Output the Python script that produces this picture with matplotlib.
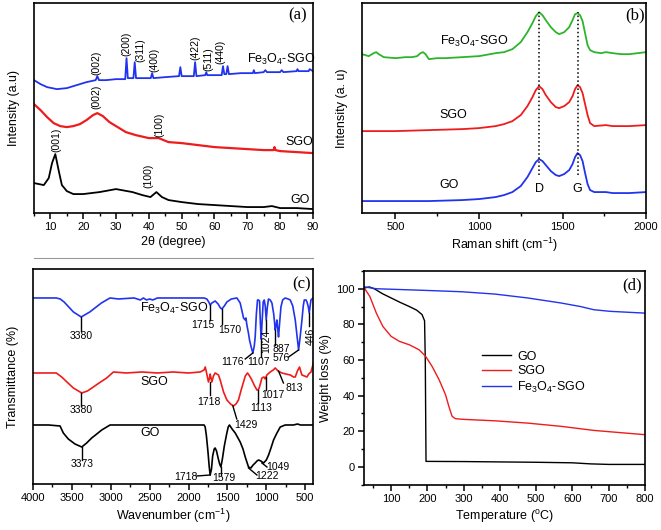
import matplotlib
matplotlib.use("Agg")
import matplotlib.pyplot as plt
from matplotlib.ticker import MultipleLocator
from matplotlib.lines import Line2D

plt.rcParams['font.family'] = ['Liberation Sans', 'DejaVu Sans']
plt.rcParams['mathtext.default'] = 'regular'

BLUE = '#2233ee'
RED = '#ee1c1c'
GREEN = '#2cb52c'

# ---- (a) XRD, intensity in arbitrary units ----
xrd_fe_x = [5, 7, 9, 12, 15, 18, 21, 23.8, 24.3, 24.8, 27, 30, 32.8, 33.2, 33.6, 35.3, 35.7, 36.1,
            40.6, 41, 41.4, 45, 49.2, 49.6, 50, 53.7, 54.1, 54.5, 57.2, 57.5, 57.8, 62.2, 62.6, 63.0,
            63.6, 64.0, 64.4, 68, 71.7, 72, 72.3, 75, 75.5, 76, 80, 80.5, 81, 85, 85.3, 85.6, 88.7, 89, 90]
xrd_fe_y = [133, 129, 126, 124, 125, 128, 131, 133, 137, 133, 133, 134, 134, 155, 135, 135, 151, 135,
            135, 140, 135, 136, 137, 146, 137, 137, 151, 137, 138, 141, 138, 138, 147, 139,
            139, 147, 139, 140, 140, 143, 140, 141, 143, 141, 141, 143, 141, 142, 144, 142, 142, 144, 142]
xrd_sgo_x = [5, 7, 9, 11, 13, 15, 17, 19, 21, 23, 24.3, 26, 28, 30, 33, 36, 40, 43, 46, 50, 55, 60,
             65, 70, 75, 78, 78.3, 78.6, 80, 85, 90]
xrd_sgo_y = [109, 103, 96, 90, 87, 86, 87, 89, 93, 98, 100, 97, 91, 87, 81, 78, 75, 75, 71, 70, 68, 66,
             65, 64, 63, 63, 66, 63, 62, 61, 60]
xrd_go_x = [5, 6.5, 8, 9.5, 10.5, 11.5, 12.5, 13.5, 15, 17, 20, 25, 30, 35, 38, 40.5, 42.3, 44, 46,
            50, 55, 60, 65, 70, 75, 77.5, 80, 85, 90]
xrd_go_y = [30, 29, 28, 35, 50, 59, 43, 28, 22, 19, 19, 21, 24, 21, 18, 16, 21, 16, 13,
            11, 9, 8, 7, 6, 6, 7, 5, 5, 4]

# ---- (b) Raman ----
ram_fe_x = [300, 340, 370, 385, 400, 430, 500, 560, 600, 630, 650, 665, 680, 700, 750, 800, 900, 1000,
            1100, 1150, 1200, 1250, 1290, 1320, 1340, 1360, 1380, 1400, 1430, 1460, 1480, 1510, 1540,
            1560, 1575, 1590, 1605, 1620, 1635, 1650, 1665, 1690, 1730, 1760, 1800, 1850, 1900, 1950, 2000]
ram_fe_y = [159, 157, 160, 161, 159, 156, 155, 156, 156, 157, 160, 161, 159, 154, 155, 155, 156, 157,
            160, 161, 164, 171, 181, 190, 197, 201, 198, 193, 186, 181, 179, 181, 186,
            193, 199, 200, 198, 192, 180, 168, 163, 161, 160, 161, 160, 159, 159, 160, 161]
ram_sgo_x = [300, 500, 700, 900, 1000, 1100, 1150, 1200, 1250, 1290, 1320, 1340, 1360, 1380, 1400,
             1430, 1460, 1480, 1510, 1540, 1560, 1575, 1590, 1605, 1620, 1635, 1650, 1665, 1690,
             1760, 1800, 1900, 2000]
ram_sgo_y = [82, 82, 83, 84, 85, 87, 89, 92, 98, 107, 116, 123, 127, 124, 118,
             111, 106, 105, 107, 111, 117, 124, 128, 126, 120, 109, 98, 90, 87,
             88, 87, 87, 88]
ram_go_x = ram_sgo_x
ram_go_y = [12, 12, 12, 13, 14, 16, 18, 21, 27, 36, 45, 51, 54, 52, 48,
            42, 38, 37, 39, 43, 49, 56, 60, 58, 52, 40, 29, 23, 21,
            21, 20, 20, 21]
raman_bands = [1360, 1590]
raman_band_names = ['D', 'G']

# ---- (c) FTIR ----
ir_fe_x = [4000, 3700, 3650, 3600, 3480, 3380, 3270, 3120, 3010, 2900, 2700, 2620, 2580, 2540, 2500,
           2460, 2400, 2000, 1800, 1765, 1740, 1722, 1700, 1658, 1620, 1590, 1571, 1540, 1507, 1450,
           1378, 1336, 1310, 1293, 1282, 1271, 1262, 1250, 1230, 1216, 1195, 1173, 1155, 1143, 1128,
           1113, 1100, 1087, 1076, 1066, 1056, 1040, 1027, 1014, 1001, 988, 972, 950, 928, 905, 885,
           875, 864, 853, 843, 828, 812, 790, 757, 720, 692, 660, 628, 605, 585, 565, 542, 525, 512,
           490, 477, 460, 448, 437, 426, 400]
ir_fe_y = [186, 186, 185, 182, 172, 167, 172, 181, 186, 185, 186, 184, 186, 184, 185,
           184, 186, 186, 186, 185, 182, 179, 181, 183, 180, 176, 175, 178, 182, 185,
           186, 181, 172, 166, 165, 164, 166, 159, 151, 144, 137, 131, 138, 147, 170,
           184, 184, 183, 160, 145, 160, 182, 184, 178, 164, 176, 185, 184, 181, 170, 154,
           158, 164, 155, 147, 162, 177, 184, 186, 185, 184, 178, 164, 148, 134, 147, 164, 178, 184,
           184, 182, 177, 171, 178, 184, 186]
ir_sgo_x = [4000, 3700, 3631, 3550, 3481, 3373, 3300, 3224, 3150, 3052, 2966, 2800, 2600, 2400, 2200,
            2000, 1850, 1800, 1785, 1765, 1744, 1730, 1722, 1700, 1680, 1658, 1615, 1593, 1550, 1507,
            1460, 1422, 1390, 1358, 1320, 1293, 1270, 1242, 1215, 1186, 1150, 1121, 1105, 1092, 1070,
            1057, 1030, 1015, 993, 950, 910, 885, 850, 799, 750, 692, 650, 628, 600, 573, 555, 542,
            510, 477, 455, 426, 405, 392]
ir_sgo_y = [111, 111, 107, 101, 96, 91, 93, 97, 101, 106, 112, 111, 112, 111, 112,
            111, 112, 114, 117, 110, 102, 106, 110, 102, 108, 111, 109, 104, 92, 84,
            80, 78, 80, 84, 95, 102, 108, 111, 108, 104, 98, 94, 94, 96, 102,
            106, 107, 105, 109, 112, 114, 116, 113, 111, 110, 109, 107, 107, 113, 117, 112, 109,
            108, 107, 110, 112, 118, 122]
ir_go_x = [4000, 3800, 3652, 3610, 3546, 3460, 3373, 3310, 3245, 3180, 3116, 3009, 2500, 2000, 1800,
           1786, 1770, 1750, 1735, 1722, 1705, 1690, 1670, 1658, 1640, 1620, 1600, 1584, 1565, 1540,
           1510, 1490, 1474, 1440, 1400, 1336, 1300, 1271, 1229, 1198, 1170, 1143, 1120, 1100, 1070,
           1036, 1000, 971, 940, 907, 870, 821, 757, 650, 600, 560, 400]
ir_go_y = [59, 59, 58, 51, 45, 40, 37, 41, 46, 50, 54, 59, 59, 59, 59,
           57, 48, 32, 18, 9, 15, 28, 35, 36, 33, 26, 20, 17, 25, 38,
           50, 57, 59, 55, 51, 42, 35, 27, 17, 16, 19, 21, 23, 24, 23,
           21, 24, 29, 36, 44, 50, 57, 59, 59, 60, 59, 59]

# ---- (d) TGA ----
tga_go_t = [27, 40, 55, 75, 100, 125, 150, 170, 185, 192, 194, 196, 200, 300, 400, 500, 600, 650, 700, 800]
tga_go_w = [100.5, 101, 99.8, 97.3, 94.8, 92.3, 90, 88, 85.5, 82, 60, 3, 3, 2.9, 2.7, 2.5, 2.2, 1.6, 1.3, 1.3]
tga_sgo_t = [27, 41, 59, 77, 100, 123, 150, 177, 195, 213, 232, 250, 259, 268, 277, 300, 386, 477, 568, 659, 800]
tga_sgo_w = [100, 95.7, 86.3, 78.8, 73.2, 70.4, 68.5, 65.7, 62, 56.3, 48.9, 40.4, 33.9, 28.3, 27, 26.6,
             25.8, 24.5, 22.7, 20.4, 18]
tga_fe_t = [27, 59, 204, 295, 386, 477, 568, 622, 659, 704, 800]
tga_fe_w = [101, 100, 99, 98.3, 97, 94.8, 92, 90, 88.2, 87.3, 86.3]

fig = plt.figure(figsize=(6.61, 5.30), dpi=100)
ax_a = fig.add_axes([0.0514, 0.598, 0.422, 0.396])
ax_b = fig.add_axes([0.5477, 0.598, 0.4297, 0.396])
ax_c = fig.add_axes([0.0499, 0.0868, 0.4236, 0.4057])
ax_d = fig.add_axes([0.5507, 0.0858, 0.4251, 0.403])

for ax in (ax_a, ax_b, ax_c, ax_d):
    for s in ax.spines.values():
        s.set_linewidth(1.2)
    ax.tick_params(which='major', direction='out', length=4, width=1.1, labelsize=8, pad=2.5)
    ax.tick_params(which='minor', direction='out', length=2.5, width=1.0)

label_kw = dict(fontsize=9)
small = 7.5

# (a)
ax_a.plot(xrd_fe_x, xrd_fe_y, color=BLUE, lw=1.3)
ax_a.plot(xrd_sgo_x, xrd_sgo_y, color=RED, lw=1.6)
ax_a.plot(xrd_go_x, xrd_go_y, color='black', lw=1.3)
ax_a.set_xlim(5, 90)
ax_a.set_ylim(0, 210)
ax_a.set_yticks([])
ax_a.xaxis.set_major_locator(MultipleLocator(10))
ax_a.xaxis.set_minor_locator(MultipleLocator(5))
ax_a.set_xlabel('2\u03b8 (degree)', labelpad=3, **label_kw)
ax_a.set_ylabel('Intensity (a.u)', labelpad=10, **label_kw)
for txt, x, y in [('(002)', 24.1, 138), ('(200)', 33.2, 157), ('(311)', 37.3, 151), ('(400)', 41.6, 141),
                  ('(422)', 54.1, 153), ('(511)', 58.1, 142), ('(440)', 61.9, 149),
                  ('(002)', 24.1, 104), ('(100)', 43.1, 76), ('(001)', 11.9, 61), ('(100)', 40.0, 25)]:
    ax_a.text(x, y, txt, rotation=90, ha='center', va='bottom', fontsize=small)
ax_a.text(69.8, 154, 'Fe$_3$O$_4$-SGO', va='center', fontsize=9)
ax_a.text(81.5, 71, 'SGO', va='center', fontsize=9)
ax_a.text(83, 13, 'GO', va='center', fontsize=9)
ax_a.text(0.946, 0.94, '(a)', transform=ax_a.transAxes, ha='center', va='center',
          family='Liberation Serif', fontsize=12)

# (b)
ax_b.plot(ram_fe_x, ram_fe_y, color=GREEN, lw=1.3)
ax_b.plot(ram_sgo_x, ram_sgo_y, color=RED, lw=1.3)
ax_b.plot(ram_go_x, ram_go_y, color=BLUE, lw=1.3)
for xb, nm in zip(raman_bands, raman_band_names):
    ax_b.plot([xb, xb], [38, 201], color='black', lw=1.1, ls=':')
    ax_b.text(xb, 24, nm, ha='center', va='center', fontsize=9)
ax_b.set_xlim(300, 2000)
ax_b.set_ylim(0, 210)
ax_b.set_yticks([])
ax_b.xaxis.set_major_locator(MultipleLocator(500))
ax_b.xaxis.set_minor_locator(MultipleLocator(250))
ax_b.set_xlabel('Raman shift (cm$^{-1}$)', labelpad=3, **label_kw)
ax_b.set_ylabel('Intensity (a. u)', labelpad=10, **label_kw)
ax_b.text(764, 172, 'Fe$_3$O$_4$-SGO', va='center', fontsize=9)
ax_b.text(764, 98, 'SGO', va='center', fontsize=9)
ax_b.text(764, 28, 'GO', va='center', fontsize=9)
ax_b.text(0.96, 0.94, '(b)', transform=ax_b.transAxes, ha='center', va='center',
          family='Liberation Serif', fontsize=12)

# (c)
ax_c.plot(ir_fe_x, ir_fe_y, color=BLUE, lw=1.2)
ax_c.plot(ir_sgo_x, ir_sgo_y, color=RED, lw=1.2)
ax_c.plot(ir_go_x, ir_go_y, color='black', lw=1.2)
ax_c.set_xlim(4000, 400)
ax_c.set_ylim(0, 215)
ax_c.set_yticks([])
ax_c.xaxis.set_major_locator(MultipleLocator(500))
ax_c.xaxis.set_minor_locator(MultipleLocator(250))
ax_c.set_xlabel('Wavenumber (cm$^{-1}$)', labelpad=3, **label_kw)
ax_c.set_ylabel('Transmittance (%)', labelpad=10, **label_kw)
# peak labels: text, text x, text y, leader from (x0, y0) to (x1, y1), rotation
ir_labels = [
    ('3380', 3380, 148, 3380, 167, 3380, 153, 0),
    ('1715', 1818, 159, 1722, 179, 1722, 164, 0),
    ('1570', 1465, 154, 1571, 175, 1571, 160, 0),
    ('1176', 1430, 122, 1173, 131, 1271, 125, 0),
    ('1107', 1104, 122, 1066, 145, 1066, 127, 0),
    ('1024', 1001, 143, 1001, 164, 1001, 152, 90),
    ('887', 812, 135, 885, 154, 885, 139, 0),
    ('576', 805, 126, 585, 134, 714, 127, 0),
    ('446', 435, 148, 448, 171, 448, 158, 90),
    ('3380', 3380, 74, 3380, 91, 3380, 78, 0),
    ('1718', 1739, 82, 1722, 102, 1722, 89, 0),
    ('1429', 1263, 59, 1430, 78, 1380, 65, 0),
    ('1113', 1070, 76, 1113, 94, 1113, 81, 0),
    ('1017', 920, 89, 1005, 107, 1005, 94, 0),
    ('813', 641, 96, 843, 113, 780, 101, 0),
    ('3373', 3373, 20, 3373, 37, 3373, 24, 0),
    ('1718', 2035, 7, 1722, 9, 1893, 8, 0),
    ('1579', 1551, 6, 1584, 17, 1584, 9, 0),
    ('1222', 992, 8, 1229, 16, 1121, 9, 0),
    ('1049', 856, 17, 1057, 21, 992, 17, 0),
]
for txt, tx, ty, x0, y0, x1, y1, rot in ir_labels:
    ax_c.plot([x0, x1], [y0, y1], color='black', lw=1.0)
    ax_c.text(tx, ty, txt, ha='center', va='center', rotation=rot, fontsize=small)
ax_c.text(2623, 176, 'Fe$_3$O$_4$-SGO', va='center', fontsize=9)
ax_c.text(2623, 102, 'SGO', va='center', fontsize=9)
ax_c.text(2623, 51, 'GO', va='center', fontsize=9)
ax_c.text(0.96, 0.926, '(c)', transform=ax_c.transAxes, ha='center', va='center',
          family='Liberation Serif', fontsize=12)

# (d)
ax_d.plot(tga_go_t, tga_go_w, color='black', lw=1.0, label='GO')
ax_d.plot(tga_sgo_t, tga_sgo_w, color=RED, lw=1.0, label='SGO')
ax_d.plot(tga_fe_t, tga_fe_w, color=BLUE, lw=1.0, label='Fe$_3$O$_4$-SGO')
ax_d.set_xlim(25, 800)
ax_d.set_ylim(-10, 110)
ax_d.xaxis.set_major_locator(MultipleLocator(100))
ax_d.xaxis.set_minor_locator(MultipleLocator(50))
ax_d.yaxis.set_major_locator(MultipleLocator(20))
ax_d.yaxis.set_minor_locator(MultipleLocator(10))
ax_d.set_xlabel('Temperature ($^{o}$C)', labelpad=3, **label_kw)
ax_d.set_ylabel('Weight loss (%)', labelpad=3, **label_kw)
ax_d.legend(loc='upper left', bbox_to_anchor=(0.38, 0.68), frameon=False, fontsize=9,
            handlelength=2.3, labelspacing=0.2, handletextpad=0.5)
ax_d.text(0.954, 0.93, '(d)', transform=ax_d.transAxes, ha='center', va='center',
          family='Liberation Serif', fontsize=12)

fig.add_artist(Line2D([34 / 661, 313 / 661], [1 - 258 / 530, 1 - 258 / 530],
                      color='#999999', lw=0.8))

fig.savefig('out.png', dpi=100)
